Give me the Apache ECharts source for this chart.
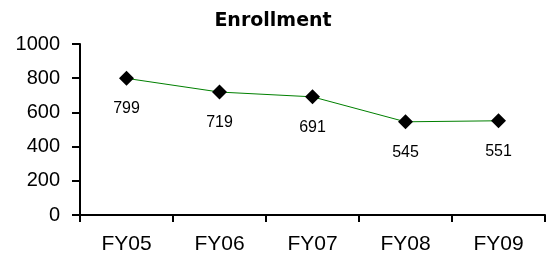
<!DOCTYPE html>
<html>
<head>
<meta charset="utf-8">
<script src="https://cdn.jsdelivr.net/npm/echarts@6/dist/echarts.min.js"></script>
<style>
    html, body { margin: 0; padding: 0; background: #fff; }
    #chart { width: 546px; height: 259px; }
</style>
</head>
<body>
<div id="chart"></div>
<script>
// data
var categories = ['FY05', 'FY06', 'FY07', 'FY08', 'FY09'];
var enrollment = [799, 719, 691, 545, 551];
var yTicks = [0, 200, 400, 600, 800, 1000];

var myChart = echarts.init(document.getElementById('chart'));
var option = {
    backgroundColor: '#fff',
    animation: false,
    title: {
        text: 'Enrollment',
        left: 'center',
        top: 7,
        textStyle: {
            fontFamily: 'DejaVu Sans',
            fontWeight: 'bold',
            fontSize: 19,
            color: '#000'
        }
    },
    grid: {
        left: 80,
        right: 1,
        top: 44,
        bottom: 44
    },
    xAxis: {
        type: 'category',
        data: categories,
        boundaryGap: true,
        axisLine: { lineStyle: { color: '#000', width: 2 } },
        axisTick: { show: true, length: 7, lineStyle: { color: '#000', width: 2 } },
        axisLabel: {
            margin: 19,
            fontFamily: 'Liberation Sans',
            fontSize: 21,
            color: '#000'
        },
        splitLine: { show: false }
    },
    yAxis: {
        type: 'value',
        min: yTicks[0],
        max: yTicks[yTicks.length - 1],
        interval: 200,
        axisLine: { show: true, lineStyle: { color: '#000', width: 2 } },
        axisTick: { show: true, length: 8, lineStyle: { color: '#000', width: 2 } },
        axisLabel: {
            margin: 20,
            fontFamily: 'Liberation Sans',
            fontSize: 20,
            color: '#000',
            formatter: function (v) { return String(v); }
        },
        splitLine: { show: false }
    },
    series: [
        {
            type: 'line',
            data: enrollment,
            symbol: 'diamond',
            symbolSize: 15,
            itemStyle: { color: '#000' },
            lineStyle: { color: '#008000', width: 1 },
            label: {
                show: true,
                position: 'bottom',
                distance: 15,
                fontFamily: 'Liberation Sans',
                fontSize: 16,
                color: '#000'
            }
        }
    ]
};
myChart.setOption(option);
</script>
</body>
</html>
